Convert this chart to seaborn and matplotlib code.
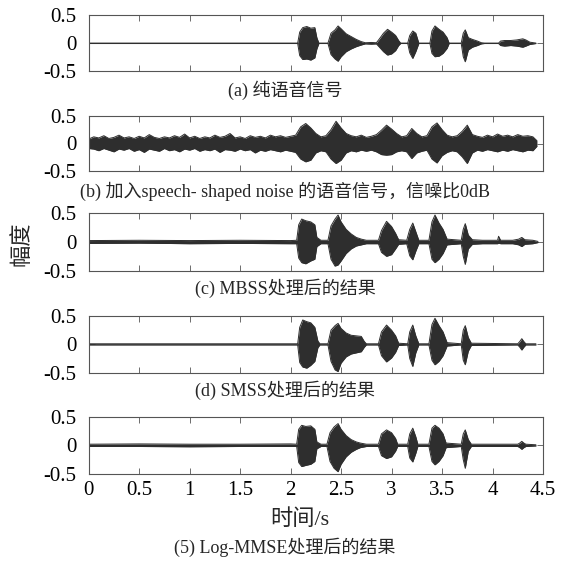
import numpy as np
import pandas as pd
import seaborn as sns
import matplotlib.pyplot as plt

# envelope breakpoints (time in s, upper / lower amplitude)
t_a = [0.0, 2.07, 2.09, 2.12, 2.16, 2.20, 2.24, 2.26, 2.28, 2.37, 2.40, 2.44, 2.47, 2.50, 2.55, 2.60, 2.65, 2.70, 2.74,
       2.80, 2.85, 2.88, 2.92, 2.96, 3.00, 3.04, 3.07, 3.09, 3.16, 3.18, 3.21, 3.24, 3.27, 3.38, 3.40, 3.43, 3.47, 3.51,
       3.55, 3.57, 3.69, 3.71, 3.73, 3.76, 3.80, 3.85, 3.89, 3.92, 4.06, 4.08, 4.12, 4.18, 4.24, 4.30, 4.33, 4.37, 4.43]
u_a = [0.004, 0.004, 0.20, 0.28, 0.30, 0.27, 0.28, 0.10, 0.004, 0.004, 0.18, 0.24, 0.31, 0.26, 0.17, 0.12, 0.07, 0.03,
       0.01, 0.015, 0.01, 0.08, 0.18, 0.25, 0.20, 0.14, 0.05, 0.004, 0.004, 0.14, 0.22, 0.18, 0.004, 0.004, 0.22, 0.31,
       0.25, 0.20, 0.10, 0.004, 0.004, 0.18, 0.24, 0.10, 0.07, 0.04, 0.01, 0.004, 0.004, 0.04, 0.05, 0.05, 0.06, 0.08,
       0.06, 0.02, 0.004]
l_a = [-0.004, -0.004, -0.22, -0.29, -0.28, -0.30, -0.26, -0.10, -0.004, -0.004, -0.20, -0.28, -0.32, -0.24, -0.15,
       -0.10, -0.06, -0.03, -0.01, -0.015, -0.01, -0.07, -0.15, -0.21, -0.19, -0.13, -0.04, -0.004, -0.004, -0.17,
       -0.27, -0.15, -0.004, -0.004, -0.18, -0.24, -0.23, -0.18, -0.09, -0.004, -0.004, -0.24, -0.33, -0.12, -0.07,
       -0.04, -0.01, -0.004, -0.004, -0.04, -0.05, -0.04, -0.05, -0.07, -0.05, -0.02, -0.004]

t_b = [0.00, 0.05, 0.10, 0.15, 0.20, 0.25, 0.30, 0.35, 0.40, 0.45, 0.50, 0.55, 0.60, 0.65, 0.70, 0.75, 0.80, 0.85,
       0.90, 0.95, 1.00, 1.05, 1.10, 1.15, 1.20, 1.25, 1.30, 1.35, 1.40, 1.45, 1.50, 1.55, 1.60, 1.65, 1.70, 1.75,
       1.80, 1.85, 1.90, 1.95, 2.00, 2.05, 2.10, 2.15, 2.20, 2.25, 2.30, 2.35, 2.40, 2.45, 2.50, 2.55, 2.60, 2.65,
       2.70, 2.75, 2.80, 2.85, 2.90, 2.95, 3.00, 3.05, 3.10, 3.15, 3.20, 3.25, 3.30, 3.35, 3.40, 3.45, 3.50, 3.55,
       3.60, 3.65, 3.70, 3.75, 3.80, 3.85, 3.90, 3.95, 4.00, 4.05, 4.10, 4.15, 4.20, 4.25, 4.30, 4.35, 4.40, 4.44]
u_b = [0.08, 0.12, 0.10, 0.14, 0.09, 0.11, 0.15, 0.10, 0.12, 0.09, 0.13, 0.10, 0.16, 0.11, 0.09, 0.12, 0.10, 0.14,
       0.11, 0.17, 0.10, 0.13, 0.09, 0.12, 0.10, 0.15, 0.11, 0.13, 0.18, 0.10, 0.12, 0.09, 0.14, 0.11, 0.13, 0.10,
       0.15, 0.12, 0.14, 0.11, 0.13, 0.15, 0.30, 0.36, 0.28, 0.18, 0.12, 0.14, 0.25, 0.40, 0.28, 0.18, 0.14, 0.12,
       0.15, 0.11, 0.13, 0.16, 0.24, 0.33, 0.26, 0.18, 0.12, 0.14, 0.27, 0.18, 0.12, 0.14, 0.30, 0.37, 0.25, 0.15,
       0.12, 0.14, 0.22, 0.33, 0.16, 0.13, 0.11, 0.15, 0.12, 0.17, 0.13, 0.15, 0.12, 0.16, 0.13, 0.14, 0.12, 0.05]
l_b = [-0.09, -0.10, -0.13, -0.09, -0.12, -0.15, -0.10, -0.12, -0.09, -0.14, -0.11, -0.16, -0.10, -0.12, -0.14,
       -0.09, -0.13, -0.11, -0.15, -0.10, -0.12, -0.09, -0.14, -0.11, -0.13, -0.10, -0.16, -0.11, -0.12, -0.14,
       -0.10, -0.13, -0.11, -0.17, -0.12, -0.14, -0.11, -0.13, -0.15, -0.12, -0.14, -0.16, -0.28, -0.33, -0.30,
       -0.17, -0.13, -0.15, -0.28, -0.36, -0.30, -0.17, -0.13, -0.15, -0.12, -0.14, -0.12, -0.15, -0.20, -0.21,
       -0.20, -0.15, -0.13, -0.15, -0.27, -0.17, -0.14, -0.12, -0.28, -0.35, -0.22, -0.16, -0.13, -0.15, -0.24,
       -0.36, -0.17, -0.12, -0.14, -0.11, -0.13, -0.15, -0.12, -0.14, -0.11, -0.13, -0.15, -0.12, -0.13, -0.05]

t_c = [0.0, 0.5, 1.0, 1.5, 2.0, 2.06, 2.08, 2.11, 2.15, 2.20, 2.24, 2.26, 2.30, 2.37, 2.40, 2.44, 2.47, 2.50, 2.55,
       2.60, 2.65, 2.70, 2.75, 2.87, 2.90, 2.95, 3.00, 3.04, 3.07, 3.15, 3.18, 3.21, 3.24, 3.27, 3.37, 3.40, 3.43,
       3.47, 3.51, 3.55, 3.69, 3.71, 3.73, 3.76, 3.80, 3.90, 4.05, 4.06, 4.08, 4.20, 4.26, 4.29, 4.32, 4.40, 4.45]
u_c = [0.025, 0.03, 0.025, 0.03, 0.025, 0.03, 0.30, 0.40, 0.37, 0.35, 0.30, 0.08, 0.03, 0.03, 0.28, 0.40, 0.47, 0.35,
       0.22, 0.14, 0.08, 0.05, 0.03, 0.03, 0.20, 0.36, 0.27, 0.15, 0.04, 0.03, 0.22, 0.33, 0.18, 0.03, 0.03, 0.35,
       0.47, 0.33, 0.22, 0.05, 0.03, 0.22, 0.32, 0.12, 0.04, 0.03, 0.03, 0.10, 0.03, 0.03, 0.05, 0.08, 0.04, 0.03, 0.01]
l_c = [-0.025, -0.02, -0.03, -0.025, -0.03, -0.03, -0.28, -0.36, -0.38, -0.33, -0.30, -0.08, -0.03, -0.03, -0.30,
       -0.42, -0.40, -0.33, -0.20, -0.12, -0.07, -0.05, -0.03, -0.03, -0.18, -0.25, -0.22, -0.12, -0.04, -0.03,
       -0.24, -0.31, -0.16, -0.03, -0.03, -0.30, -0.36, -0.30, -0.20, -0.05, -0.03, -0.25, -0.39, -0.12, -0.04,
       -0.03, -0.03, -0.02, -0.03, -0.03, -0.05, -0.08, -0.04, -0.03, -0.01]

t_d = [0.0, 2.07, 2.09, 2.12, 2.16, 2.20, 2.24, 2.27, 2.29, 2.37, 2.40, 2.44, 2.47, 2.50, 2.55, 2.60, 2.65, 2.70,
       2.73, 2.75, 2.87, 2.90, 2.95, 3.00, 3.04, 3.07, 3.16, 3.18, 3.21, 3.24, 3.27, 3.37, 3.40, 3.43, 3.47, 3.51,
       3.55, 3.69, 3.71, 3.73, 3.76, 3.79, 4.25, 4.27, 4.29, 4.31, 4.33, 4.43]
u_d = [0.01, 0.01, 0.30, 0.43, 0.40, 0.38, 0.30, 0.06, 0.01, 0.01, 0.25, 0.33, 0.37, 0.28, 0.20, 0.16, 0.15, 0.14,
       0.05, 0.01, 0.01, 0.22, 0.34, 0.25, 0.15, 0.02, 0.01, 0.22, 0.34, 0.15, 0.01, 0.01, 0.35, 0.46, 0.33, 0.22,
       0.03, 0.01, 0.25, 0.33, 0.12, 0.02, 0.01, 0.05, 0.10, 0.05, 0.01, 0.01]
l_d = [-0.01, -0.01, -0.32, -0.40, -0.42, -0.37, -0.30, -0.06, -0.01, -0.01, -0.30, -0.45, -0.48, -0.33, -0.22,
       -0.17, -0.15, -0.13, -0.05, -0.01, -0.01, -0.20, -0.31, -0.24, -0.14, -0.02, -0.01, -0.25, -0.39, -0.15,
       -0.01, -0.01, -0.28, -0.36, -0.30, -0.20, -0.03, -0.01, -0.28, -0.36, -0.12, -0.02, -0.01, -0.05, -0.10,
       -0.05, -0.01, -0.01]

t_e = [0.0, 0.5, 1.0, 1.5, 2.0, 2.06, 2.08, 2.11, 2.15, 2.20, 2.24, 2.26, 2.30, 2.36, 2.39, 2.43, 2.47, 2.50, 2.55,
       2.60, 2.65, 2.69, 2.75, 2.87, 2.90, 2.95, 3.00, 3.04, 3.06, 3.16, 3.18, 3.21, 3.24, 3.26, 3.37, 3.40, 3.43,
       3.47, 3.51, 3.54, 3.69, 3.71, 3.73, 3.76, 3.79, 4.0, 4.25, 4.27, 4.29, 4.31, 4.33, 4.43]
u_e = [0.02, 0.025, 0.02, 0.02, 0.025, 0.02, 0.28, 0.35, 0.33, 0.34, 0.28, 0.06, 0.02, 0.02, 0.22, 0.32, 0.38, 0.28,
       0.17, 0.10, 0.06, 0.04, 0.02, 0.02, 0.20, 0.27, 0.22, 0.12, 0.02, 0.02, 0.20, 0.30, 0.15, 0.02, 0.02, 0.30,
       0.35, 0.30, 0.20, 0.04, 0.02, 0.20, 0.27, 0.10, 0.02, 0.02, 0.02, 0.04, 0.07, 0.04, 0.02, 0.01]
l_e = [-0.02, -0.02, -0.025, -0.02, -0.02, -0.02, -0.30, -0.37, -0.35, -0.33, -0.28, -0.06, -0.02, -0.02, -0.28,
       -0.40, -0.46, -0.33, -0.20, -0.12, -0.07, -0.04, -0.02, -0.02, -0.18, -0.23, -0.20, -0.10, -0.02, -0.02,
       -0.22, -0.29, -0.14, -0.02, -0.02, -0.28, -0.34, -0.28, -0.18, -0.04, -0.02, -0.25, -0.40, -0.10, -0.02,
       -0.02, -0.02, -0.04, -0.07, -0.04, -0.02, -0.01]

captions = ["(a) 纯语音信号",
            "(b) 加入speech- shaped noise 的语音信号，信噪比0dB",
            "(c) MBSS处理后的结果",
            "(d) SMSS处理后的结果",
            "(5) Log-MMSE处理后的结果"]
x_ticks = [0, 0.5, 1, 1.5, 2, 2.5, 3, 3.5, 4, 4.5]
x_tick_labels = ["0", "0.5", "1", "1.5", "2", "2.5", "3", "3.5", "4", "4.5"]
y_ticks = [-0.5, 0, 0.5]
y_tick_labels = ["-0.5", "0", "0.5"]

signals = [(t_a, u_a, l_a), (t_b, u_b, l_b), (t_c, u_c, l_c), (t_d, u_d, l_d), (t_e, u_e, l_e)]

sns.set_style("ticks")
plt.rcParams["font.family"] = ["Liberation Serif", "Noto Sans CJK SC"]
plt.rcParams["axes.unicode_minus"] = False

W, H = 567, 561
fig = plt.figure(figsize=(W / 100, H / 100), dpi=100)

# panel pixel boxes (top, bottom) and caption centre y
boxes = [(15.3, 71.3), (115.7, 171.3), (213.3, 270.7), (316.0, 372.7), (416.7, 474.0)]
cap_y = [90, 191, 288, 390, 547]
left_px, right_px = 88.7, 543.0
ink = "#2e2e2e"

for i, ((t, u, l), (top, bot)) in enumerate(zip(signals, boxes)):
    ax = fig.add_axes([left_px / W, 1 - bot / H, (right_px - left_px) / W, (bot - top) / H])
    df = pd.DataFrame({"t": t, "u": u, "l": l})
    ax.fill_between(df["t"], df["l"], df["u"], color=ink, linewidth=0)
    sns.lineplot(data=df, x="t", y="u", ax=ax, color=ink, lw=0.7, estimator=None)
    sns.lineplot(data=df, x="t", y="l", ax=ax, color=ink, lw=0.7, estimator=None)
    ax.set_xlim(0, 4.5)
    ax.set_ylim(-0.5, 0.5)
    ax.set_xlabel("")
    ax.set_ylabel("")
    ax.set_yticks(y_ticks)
    ax.set_yticklabels(y_tick_labels, fontsize=15)
    ax.set_xticks(x_ticks)
    if i == 4:
        ax.set_xticklabels(x_tick_labels, fontsize=15)
    else:
        ax.set_xticklabels([])
    ax.tick_params(direction="in", length=4, width=0.6, color="#555555", top=True, right=True,
                   labelcolor="black")
    ax.tick_params(axis="y", pad=9)
    ax.tick_params(axis="x", pad=5)
    for s in ax.spines.values():
        s.set_visible(True)
        s.set_color("#555555")
        s.set_linewidth(0.8)
    fig.text(285 / W, 1 - cap_y[i] / H, captions[i], ha="center", va="center", fontsize=13)

fig.text(300 / W, 1 - 520 / H, "时间/s", ha="center", va="center", fontsize=16)
fig.text(22 / W, 1 - 244 / H, "幅度", ha="center", va="center", fontsize=16, rotation=90)

fig.savefig("out.png", dpi=100)
